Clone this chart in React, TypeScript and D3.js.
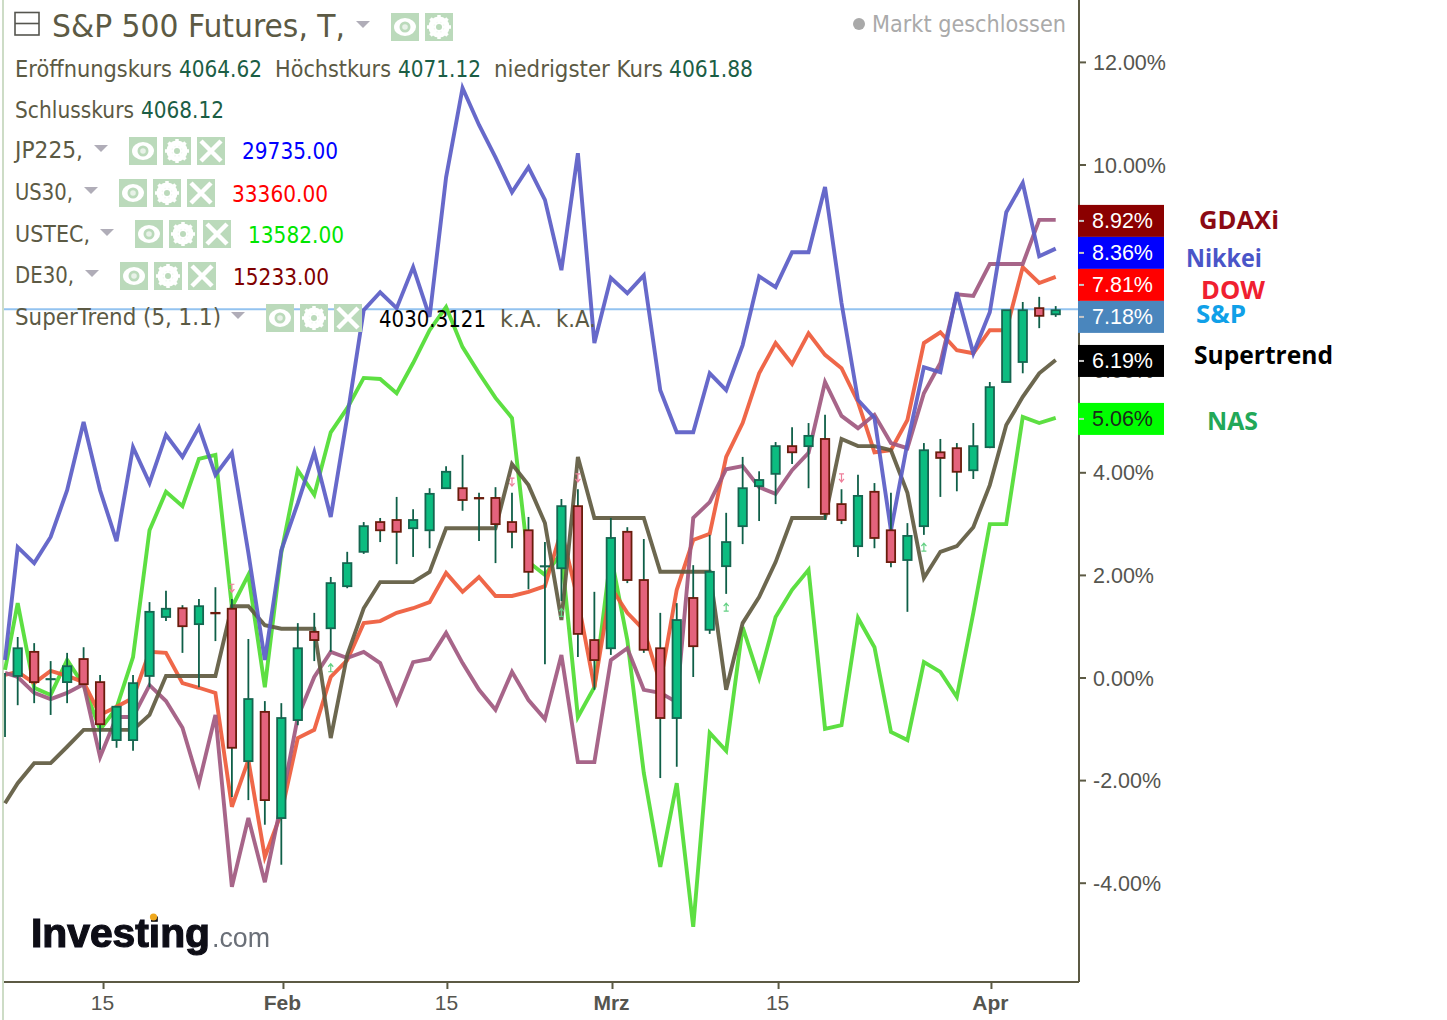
import React, { useEffect, useRef } from 'react';
import * as d3 from 'd3';

// all series are % change
const nikkei = [0.34, 2.54, 2.23, 2.74, 3.65, 4.98, 3.65, 2.66, 4.49, 3.79, 4.73, 4.30, 4.88, 3.95, 4.38, 2.43, 0.34, 2.48, 3.40, 4.39, 3.13, 5.08, 7.16, 7.51, 7.20, 8.00, 7.03, 9.75, 11.49, 10.77, 10.14, 9.46, 9.95, 9.31, 7.94, 10.22, 6.52, 7.79, 7.49, 7.84, 5.60, 4.78, 4.78, 5.93, 5.60, 6.48, 7.82, 7.61, 8.29, 8.29, 9.56, 7.30, 5.41, 5.06, 2.87, 4.57, 6.05, 5.95, 7.51, 6.32, 7.12, 9.07, 9.64, 8.21, 8.36];
const dow = [0.05, 0.11, -0.11, 0.13, 0.03, -0.09, -0.73, -0.57, -0.40, 0.50, 0.48, -0.11, -0.20, -0.30, -2.52, -1.61, -3.50, -2.64, -1.18, -1.02, 0.01, 0.34, 1.06, 1.10, 1.26, 1.35, 1.47, 2.04, 1.67, 1.96, 1.59, 1.59, 1.67, 1.78, 2.87, 1.51, -0.19, 1.76, 1.26, 0.93, -0.11, 1.71, 2.68, 2.80, 4.30, 4.96, 5.93, 6.52, 6.11, 6.71, 6.29, 6.03, 5.37, 4.39, 4.43, 5.02, 6.52, 6.73, 6.38, 6.32, 6.77, 6.77, 8.00, 7.69, 7.81];
const gdaxi = [0.09, 0.01, -0.30, -0.42, -0.30, -0.13, -1.55, -0.77, -0.77, -0.15, -0.46, -0.98, -2.06, -0.73, -4.08, -2.74, -3.99, -2.45, -0.77, 0.01, 0.50, 0.38, 0.50, 0.28, -0.50, 0.30, 0.36, 0.87, 0.28, -0.24, -0.63, 0.11, -0.44, -0.81, 0.44, -1.65, -1.65, 0.34, 0.57, -0.24, -0.30, -0.48, 3.11, 3.42, 4.06, 4.12, 3.71, 3.58, 4.04, 4.38, 5.76, 5.10, 4.86, 5.12, 4.57, 4.47, 5.54, 6.13, 7.47, 7.44, 8.06, 8.06, 8.06, 8.92, 8.92];
const nas = [0.15, 1.45, -0.20, -0.34, 0.34, -0.15, -1.02, -0.59, 0.40, 2.87, 3.62, 3.34, 4.26, 4.34, 1.37, 2.00, -0.19, 2.43, 4.04, 3.56, 4.78, 5.25, 5.84, 5.82, 5.54, 6.13, 6.77, 7.22, 6.44, 5.93, 5.45, 5.06, 2.25, 2.00, 2.43, -0.77, -0.19, 2.39, 0.73, -1.86, -3.69, -2.06, -4.86, -1.08, -1.43, 0.98, -0.01, 1.18, 1.71, 2.10, -1.00, -0.93, 1.16, 0.59, -1.06, -1.22, 0.30, 0.11, -0.38, 1.26, 2.99, 2.99, 5.08, 4.96, 5.06];
const supertrend = [-2.45, -2.06, -1.67, -1.67, -1.35, -1.02, -1.02, -1.02, -1.02, -0.73, 0.03, 0.03, 0.03, 0.03, 1.39, 1.39, 1.02, 0.95, 0.95, 0.95, -1.18, 0.44, 1.35, 1.86, 1.86, 1.86, 2.06, 2.91, 2.91, 2.91, 2.91, 4.16, 3.75, 3.01, 1.12, 4.30, 3.11, 3.11, 3.11, 3.11, 2.06, 2.06, 2.06, 2.06, -0.24, 1.06, 1.57, 2.25, 3.11, 3.11, 3.11, 4.65, 4.51, 4.51, 4.43, 3.60, 1.94, 2.45, 2.56, 2.93, 3.75, 4.92, 5.47, 5.93, 6.19];

const open = [0.03, 0.50, -0.03, -0.09, 0.36, -0.09, -1.22, -1.22, 0.03, 1.18, 1.35, 1.04, 1.26, 1.34, -1.63, -0.67, -2.74, -0.83, 0.89, 0.96, 1.78, 2.45, 3.03, 3.07, 2.91, 2.87, 3.69, 3.69, 3.50, 3.50, 3.03, 2.87, 2.17, 2.13, 3.34, 0.73, 0.57, 2.84, 1.90, 0.57, -0.79, 1.55, 0.93, 2.17, 2.95, 3.73, 3.97, 4.51, 4.51, 4.65, 3.38, 2.56, 3.62, 2.87, 2.29, 2.95, 4.39, 4.47, 4.04, 4.49, 5.76, 6.15, 7.20, 7.08];
const high = [0.79, 0.67, 0.32, 0.48, 0.59, 0.05, -0.57, 0.05, 1.47, 1.69, 1.41, 1.53, 1.76, 1.53, 0.75, -0.46, -0.50, 1.06, 1.26, 1.96, 2.45, 3.03, 3.11, 3.52, 3.28, 3.69, 4.12, 4.34, 3.60, 3.71, 3.60, 3.13, 2.64, 3.48, 3.67, 1.67, 3.11, 2.93, 2.70, 1.26, 1.45, 2.19, 2.78, 3.21, 4.30, 4.02, 4.59, 4.88, 4.96, 5.12, 3.67, 3.95, 3.79, 3.60, 3.01, 4.57, 4.65, 4.57, 4.96, 5.76, 7.16, 7.32, 7.42, 7.24];
const low = [-0.54, -0.50, -0.73, -0.50, -0.13, -1.41, -1.37, -1.43, -0.19, 1.10, 0.48, -0.19, 0.71, -2.33, -2.39, -2.87, -3.65, -0.93, 0.32, 0.50, 1.74, 2.41, 2.64, 2.21, 2.35, 2.52, 3.69, 3.25, 2.66, 2.23, 2.52, 1.72, 0.26, 1.49, 0.40, -0.24, 0.44, 1.84, 0.48, -1.96, -1.74, 0.01, 0.85, 1.63, 2.60, 3.05, 3.38, 4.16, 3.69, 3.07, 2.99, 2.35, 2.52, 2.15, 1.28, 2.78, 3.52, 3.63, 3.87, 4.47, 5.76, 5.93, 6.81, 7.03];
const close = [0.57, -0.09, -0.03, 0.22, -0.13, -0.91, -0.57, -0.11, 1.28, 1.34, 1.00, 1.39, 1.25, -1.37, -0.42, -2.39, -0.79, 0.57, 0.73, 1.84, 2.23, 2.95, 2.87, 2.84, 3.07, 3.58, 4.01, 3.46, 3.49, 2.99, 2.84, 2.06, 2.17, 3.34, 0.85, 0.34, 2.72, 1.90, 0.54, -0.79, 1.12, 0.61, 2.06, 2.64, 3.69, 3.85, 4.51, 4.39, 4.71, 3.19, 3.07, 3.54, 2.72, 2.25, 2.76, 4.43, 4.28, 4.01, 4.51, 5.66, 7.16, 7.16, 7.05, 7.16];

// bar cut off by the left edge, only its wick shows
const partialBarIndex = -0.77;
const partialBarHigh = 0.09;
const partialBarLow = -1.16;

const sellSignals = [[13, 1.74], [30, 3.81], [34, 3.89], [50, 3.89]];
const buySignals = [[19, 0.19], [33, 1.27], [43, 1.37], [55, 2.54]];

// 8.00% sits fully behind the value badges, 6.00% still peeks out below one
const yTicks = [12, 10, 6, 4, 2, 0, -2, -4];
const xTickIndex = [5.18, 16.1, 26.05, 36.07, 46.15, 59.07];
const xTickLabels = ['15', 'Feb', '15', 'Mrz', '15', 'Apr'];
const boldTicks = ['Feb', 'Mrz', 'Apr'];

const badgeValues = [8.92, 8.36, 7.81, 7.18, 6.19, 5.06];
const badgeColors = ['#8b0000', '#0000ff', '#ff0000', '#4a86bd', '#000000', '#00ff00'];
const badgeText = ['#ffffff', '#ffffff', '#ffffff', '#ffffff', '#ffffff', '#1a2a1a'];
const sideNames = ['GDAXi', 'Nikkei', 'DOW', 'S&P', 'Supertrend', 'NAS'];
const sideColors = ['#8b0a14', '#4a55c8', '#f02030', '#10a0e8', '#000000', '#22a858'];
const sideX = [1199, 1186, 1201, 1196, 1194, 1207];
const sideLen = [80, 76, 64, 50, 139, 51];
const sideBase = [229, 267, 299, 323, 364, 430];

const W = 1447;
const H = 1020;
const axisX = 1079;
const axisY = 982;
const OLIVE = '#5c5a44';
const VALUE = '#1b5e45';
const LEGEND_FONT = '"DejaVu Sans", sans-serif';
const AXIS_FONT = '"Liberation Sans", Arial, sans-serif';

const x = d3.scaleLinear().domain([0, 63]).range([17.7, 1055.7]);
const y = d3.scaleLinear().domain([0, 12]).range([677.5, 61.9]);

const lineIndex = [partialBarIndex, ...d3.range(64)];
const line = d3.line<number>().x((_, i) => x(lineIndex[i])).y(d => y(d));

const seriesDraw = [
  { values: nas, color: '#4fdc32' },
  { values: dow, color: '#ee5a3a' },
  { values: gdaxi, color: '#a0587f' },
  { values: supertrend, color: '#5f5a40' },
  { values: nikkei, color: '#5a5cc6' },
];

// labels on the right get pushed down so they don't overlap
const badgeY: number[] = [];
badgeValues.forEach((v, i) => {
  const wanted = y(v) + 1;
  badgeY.push(i === 0 ? wanted : Math.max(wanted, badgeY[i - 1] + 32));
});

const Txt = ({ x: tx, y: ty, len, size = 23, fill = OLIVE, children }: any) => (
  <text x={tx} y={ty} fontSize={size} fill={fill} fontFamily={LEGEND_FONT} textLength={len} lengthAdjust="spacingAndGlyphs">
    {children}
  </text>
);

const Caret = ({ x: cx, y: cy }: any) => (
  <path d={`M${cx},${cy}h14l-7,7z`} fill="#b0adb8" />
);

const Btn = ({ x: bx, y: by, kind }: any) => {
  const c = bx + 14;
  const m = by + 14;
  return (
    <g>
      <rect x={bx} y={by} width={28} height={28} fill="#bbdabb" />
      {kind === 'eye' && (
        <g>
          <ellipse cx={c} cy={m} rx={11} ry={9} fill="#fff" />
          <circle cx={c} cy={m} r={5.5} fill="#bbdabb" />
          <circle cx={c} cy={m} r={2.8} fill="#e8f2e8" />
        </g>
      )}
      {kind === 'gear' && (
        <g>
          <circle cx={c} cy={m} r={8} fill="none" stroke="#fff" strokeWidth={5} />
          <path d={`M${c},${m - 12}V${m + 12}M${c - 12},${m}H${c + 12}M${c - 8.5},${m - 8.5}L${c + 8.5},${m + 8.5}M${c + 8.5},${m - 8.5}L${c - 8.5},${m + 8.5}`} stroke="#fff" strokeWidth={3.5} />
          <circle cx={c} cy={m} r={3} fill="#bbdabb" />
        </g>
      )}
      {kind === 'x' && (
        <path d={`M${bx + 4},${by + 4}L${bx + 24},${by + 24}M${bx + 24},${by + 4}L${bx + 4},${by + 24}`} stroke="#fff" strokeWidth={4.5} />
      )}
    </g>
  );
};

const legendRows = [
  { name: 'JP225,', nameEnd: 68, base: 158, caret: 94, caretY: 145, box: 129, boxY: 137, value: '29735.00', vx: 242, vbase: 159, color: '#0000ff' },
  { name: 'US30,', nameEnd: 58, base: 200, caret: 84, caretY: 187, box: 119, boxY: 179, value: '33360.00', vx: 232, vbase: 201.5, color: '#ff0000' },
  { name: 'USTEC,', nameEnd: 75, base: 241.7, caret: 100, caretY: 229, box: 135, boxY: 220, value: '13582.00', vx: 248, vbase: 243, color: '#00e600' },
  { name: 'DE30,', nameEnd: 59, base: 283, caret: 85, caretY: 270, box: 120, boxY: 262, value: '15233.00', vx: 233, vbase: 284.5, color: '#800000' },
];

const App: React.FC = () => {
  const xAxisRef = useRef<SVGGElement>(null);
  const yAxisRef = useRef<SVGGElement>(null);

  useEffect(() => {
    const xAxis = d3.axisBottom(x)
      .tickValues(xTickIndex)
      .tickFormat((_, i) => xTickLabels[i])
      .tickSize(7)
      .tickPadding(6);
    const gx = d3.select(xAxisRef.current!).call(xAxis as any);
    gx.select('.domain').remove();
    gx.selectAll('.tick line').attr('stroke', OLIVE).attr('stroke-width', 2);
    gx.selectAll('.tick text')
      .attr('font-family', AXIS_FONT)
      .attr('font-size', 21)
      .attr('fill', '#55554f')
      .attr('dx', -1)
      .attr('font-weight', (_, i) => (boldTicks.includes(xTickLabels[i]) ? 700 : 400));

    const yAxis = d3.axisRight(y)
      .tickValues(yTicks)
      .tickFormat(d => `${(+d).toFixed(2)}%`)
      .tickSize(7)
      .tickPadding(7);
    const gy = d3.select(yAxisRef.current!).call(yAxis as any);
    gy.select('.domain').remove();
    gy.selectAll('.tick line').attr('stroke', OLIVE).attr('stroke-width', 2);
    gy.selectAll('.tick text')
      .attr('font-family', AXIS_FONT)
      .attr('font-size', 21.5)
      .attr('fill', '#55554f')
      .attr('dy', '7.5');
  }, []);

  return (
    <svg width={W} height={H} style={{ position: 'absolute', left: 0, top: 0, background: '#fff' }}>
      <defs>
        <filter id="soft"><feGaussianBlur stdDeviation="0.6" /></filter>
      </defs>
      <line x1={3} x2={3} y1={0} y2={H} stroke="#cddcc6" strokeWidth={2} />

      <g ref={xAxisRef} transform={`translate(0,${axisY})`} />
      <g ref={yAxisRef} transform={`translate(${axisX},0)`} />
      <line x1={4} x2={axisX} y1={axisY} y2={axisY} stroke={OLIVE} strokeWidth={2} />
      <line x1={axisX} x2={axisX} y1={0} y2={axisY} stroke={OLIVE} strokeWidth={2} />

      <line x1={4} x2={axisX} y1={y(badgeValues[3])} y2={y(badgeValues[3])} stroke="#93c3f0" strokeWidth={2} />

      {seriesDraw.map(s => (
        <path key={s.color} d={line(s.values) ?? ''} fill="none" stroke={s.color} strokeWidth={3.9} strokeOpacity={0.92} strokeLinejoin="miter" />
      ))}

      <line x1={x(partialBarIndex)} x2={x(partialBarIndex)} y1={y(partialBarHigh)} y2={y(partialBarLow)} stroke="#0f5f48" strokeWidth={1.8} />
      {open.map((o, i) => {
        const up = close[i] >= o;
        const top = y(Math.max(o, close[i]));
        const bottom = y(Math.min(o, close[i]));
        return (
          <g key={i}>
            <line x1={x(i)} x2={x(i)} y1={y(high[i])} y2={y(low[i])} stroke="#0f5f48" strokeWidth={1.8} />
            <rect x={x(i) - 4.2} y={top} width={8.4} height={Math.max(bottom - top, 0.3)} fill={up ? '#0cbc80' : '#e4637c'} stroke={up ? '#156650' : '#6a1c0c'} strokeWidth={1.8} />
          </g>
        );
      })}

      {sellSignals.map(([i, v]) => (
        <path key={`s${i}`} d={`M${x(i) - 2.5},${y(v) - 4}h5M${x(i)},${y(v) - 4}v8M${x(i) - 2.5},${y(v) + 1}L${x(i)},${y(v) + 4}L${x(i) + 2.5},${y(v) + 1}`} fill="none" stroke="#ee7f9a" strokeWidth={1.2} />
      ))}
      {buySignals.map(([i, v]) => (
        <path key={`b${i}`} d={`M${x(i) - 2.5},${y(v) + 4}h5M${x(i)},${y(v) + 4}v-8M${x(i) - 2.5},${y(v) - 1}L${x(i)},${y(v) - 4}L${x(i) + 2.5},${y(v) - 1}`} fill="none" stroke="#63d083" strokeWidth={1.2} />
      ))}

      {/* header */}
      <rect x={15} y={12.5} width={24} height={22.5} fill="none" stroke="#55554f" strokeWidth={1.6} />
      <line x1={15} x2={39} y1={23.5} y2={23.5} stroke="#55554f" strokeWidth={1.6} />
      <Txt x={52} y={37} len={293} size={32}>S&amp;P 500 Futures, T,</Txt>
      <Caret x={356} y={21} />
      <Btn x={391} y={13} kind="eye" />
      <Btn x={425} y={13} kind="gear" />
      <circle cx={859} cy={24} r={6} fill="#a9a9a9" />
      <Txt x={872} y={32} len={194} fill="#aaaaaa">Markt geschlossen</Txt>

      <Txt x={15} y={77} len={157}>Eröffnungskurs</Txt>
      <Txt x={179} y={77} len={83} fill={VALUE}>4064.62</Txt>
      <Txt x={275} y={77} len={116}>Höchstkurs</Txt>
      <Txt x={398} y={77} len={83} fill={VALUE}>4071.12</Txt>
      <Txt x={494} y={77} len={169}>niedrigster Kurs</Txt>
      <Txt x={669} y={77} len={84} fill={VALUE}>4061.88</Txt>
      <Txt x={15} y={117.5} len={119}>Schlusskurs</Txt>
      <Txt x={141} y={117.5} len={83} fill={VALUE}>4068.12</Txt>

      {legendRows.map(r => (
        <g key={r.name}>
          <Txt x={15} y={r.base} len={r.nameEnd}>{r.name}</Txt>
          <Caret x={r.caret} y={r.caretY} />
          <Btn x={r.box} y={r.boxY} kind="eye" />
          <Btn x={r.box + 34} y={r.boxY} kind="gear" />
          <Btn x={r.box + 68} y={r.boxY} kind="x" />
          <Txt x={r.vx} y={r.vbase} len={96} fill={r.color}>{r.value}</Txt>
        </g>
      ))}

      <Txt x={15} y={325} len={206}>SuperTrend (5, 1.1)</Txt>
      <Caret x={231} y={312} />
      <Btn x={266} y={304} kind="eye" />
      <Btn x={300} y={304} kind="gear" />
      <Btn x={334} y={304} kind="x" />
      <Txt x={379} y={327} len={107} fill="#000000">4030.3121</Txt>
      <Txt x={500} y={327} len={42}>k.A.</Txt>
      <Txt x={556} y={327} len={40}>k.A.</Txt>

      {/* watermark */}
      <g filter="url(#soft)">
        <text x={31} y={947} fontFamily={AXIS_FONT} fontWeight={700} fontSize={40} fill="#0a0a14" stroke="#0a0a14" strokeWidth={1.2} textLength={179} lengthAdjust="spacingAndGlyphs">Investing</text>
        <text x={212} y={947} fontFamily={AXIS_FONT} fontSize={28} fill="#6b6f78" textLength={58} lengthAdjust="spacingAndGlyphs">.com</text>
        <circle cx={153.5} cy={917} r={3.6} fill="#efa81f" />
      </g>

      {/* value badges */}
      {badgeValues.map((v, i) => (
        <g key={v}>
          <rect x={axisX - 1} y={badgeY[i] - 16} width={86} height={32} fill={badgeColors[i]} />
          <line x1={axisX} x2={axisX + 5} y1={badgeY[i]} y2={badgeY[i]} stroke="#c8c8c8" strokeWidth={2} />
          <text x={1092} y={badgeY[i] + 7.5} fontFamily={AXIS_FONT} fontSize={21.5} fill={badgeText[i]}>{v.toFixed(2)}%</text>
        </g>
      ))}

      {sideNames.map((n, i) => (
        <text key={n} x={sideX[i]} y={sideBase[i]} fontFamily='"Open Sans", sans-serif' fontWeight={700} fontSize={25} fill={sideColors[i]} textLength={sideLen[i]} lengthAdjust="spacingAndGlyphs">{n}</text>
      ))}
    </svg>
  );
};

export default App;
